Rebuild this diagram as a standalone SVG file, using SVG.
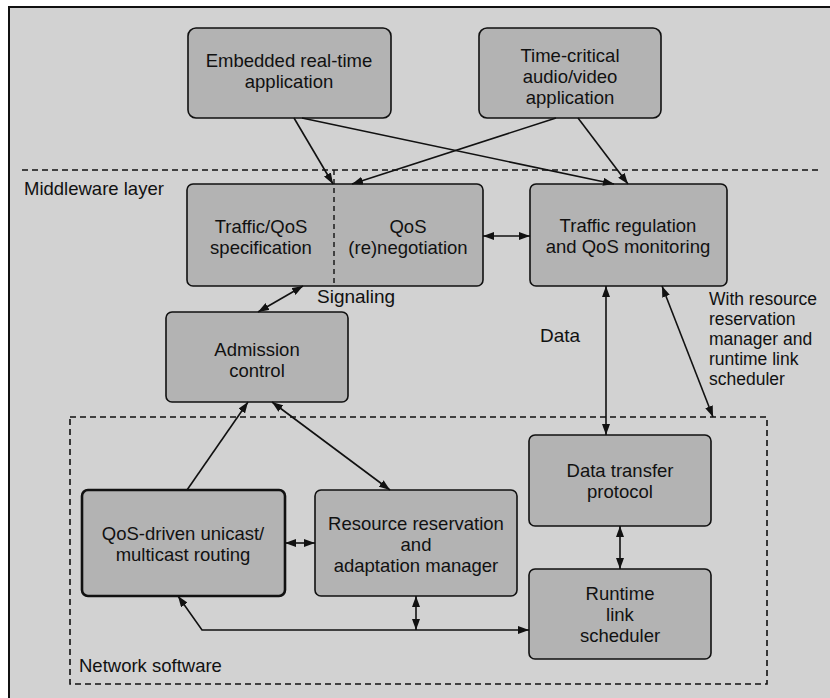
<svg xmlns="http://www.w3.org/2000/svg" width="830" height="698" viewBox="0 0 830 698">
<style>
.box{fill:#b3b3b3;stroke:#111;stroke-width:1.6}
.box2{fill:#b3b3b3;stroke:#111;stroke-width:2.6}
.t{font-family:"Liberation Sans",Arial,sans-serif;font-size:18.5px;fill:#111;text-anchor:middle}
.lb{font-family:"Liberation Sans",Arial,sans-serif;font-size:18.5px;fill:#111}
.c{fill:none;stroke:#111;stroke-width:1.6}
.dash{fill:none;stroke:#111;stroke-width:1.6;stroke-dasharray:6 4}
</style>
<defs>
<marker id="ah" viewBox="0 0 11 8" refX="11" refY="4" markerWidth="11" markerHeight="8" markerUnits="userSpaceOnUse" orient="auto-start-reverse">
<path d="M0,0 L11,4 L0,8 z" fill="#111"/>
</marker>
</defs>
<rect x="0" y="0" width="830" height="698" fill="#ffffff"/>
<rect x="9" y="7" width="821" height="691" fill="#d2d2d2"/>
<path d="M9,698 V7 H830" fill="none" stroke="#111" stroke-width="2"/>
<g id="network-area">
<rect x="70" y="417" width="697" height="267" fill="#efefef" class="dash"/>
<text class="lb" x="79" y="672">Network software</text>
</g>
<g id="middleware-area">
<line x1="22" y1="170" x2="822" y2="170" class="dash"/>
<text class="lb" x="24" y="195">Middleware layer</text>
</g>
<g id="embedded-app">
<rect class="box" x="188" y="28" width="203" height="90" rx="8"/>
<text class="t" x="289" y="67">Embedded real-time</text>
<text class="t" x="289" y="88">application</text>
</g>
<g id="timecritical-app">
<rect class="box" x="479" y="28" width="182" height="90" rx="8"/>
<text class="t" x="570" y="62">Time-critical</text>
<text class="t" x="570" y="83">audio/video</text>
<text class="t" x="570" y="104">application</text>
</g>
<g id="qos-spec-reneg">
<rect class="box" x="187" y="184" width="296" height="102" rx="6"/>
<line x1="334" y1="170" x2="334" y2="286" stroke="#111" stroke-width="1.4" stroke-dasharray="5 4"/>
<text class="t" x="261" y="233">Traffic/QoS</text>
<text class="t" x="261" y="254">specification</text>
<text class="t" x="408" y="233">QoS</text>
<text class="t" x="408" y="254">(re)negotiation</text>
</g>
<g id="traffic-regulation">
<rect class="box" x="530" y="184" width="197" height="102" rx="6"/>
<text class="t" x="628" y="232">Traffic regulation</text>
<text class="t" x="628" y="253">and QoS monitoring</text>
</g>
<g id="admission-control">
<rect class="box" x="166" y="312" width="182" height="90" rx="6"/>
<text class="t" x="257" y="356">Admission</text>
<text class="t" x="257" y="377">control</text>
</g>
<g id="qos-routing">
<rect class="box2" x="82" y="490" width="203" height="106" rx="6"/>
<text class="t" x="183" y="540">QoS-driven unicast/</text>
<text class="t" x="183" y="561">multicast routing</text>
</g>
<g id="resource-manager">
<rect class="box" x="315" y="490" width="202" height="106" rx="6"/>
<text class="t" x="416" y="530">Resource reservation</text>
<text class="t" x="416" y="551">and</text>
<text class="t" x="416" y="572">adaptation manager</text>
</g>
<g id="data-transfer">
<rect class="box" x="529" y="435" width="182" height="91" rx="6"/>
<text class="t" x="620" y="477">Data transfer</text>
<text class="t" x="620" y="498">protocol</text>
</g>
<g id="link-scheduler">
<rect class="box" x="529" y="569" width="182" height="90" rx="6"/>
<text class="t" x="620" y="600">Runtime</text>
<text class="t" x="620" y="621">link</text>
<text class="t" x="620" y="642">scheduler</text>
</g>
<g id="connectors">
<line class="c" x1="294" y1="118" x2="333" y2="184" marker-end="url(#ah)"/>
<line class="c" x1="556" y1="118" x2="352" y2="184" marker-end="url(#ah)"/>
<line class="c" x1="302" y1="118" x2="614" y2="184" marker-end="url(#ah)"/>
<line class="c" x1="578" y1="118" x2="628" y2="184" marker-end="url(#ah)"/>
<line class="c" x1="483" y1="236" x2="530" y2="236" marker-start="url(#ah)" marker-end="url(#ah)"/>
<line class="c" x1="303" y1="286" x2="258" y2="312" marker-start="url(#ah)" marker-end="url(#ah)"/>
<line class="c" x1="606" y1="286" x2="606" y2="435" marker-start="url(#ah)" marker-end="url(#ah)"/>
<line class="c" x1="662" y1="286" x2="713" y2="417" marker-start="url(#ah)" marker-end="url(#ah)"/>
<line class="c" x1="187" y1="490" x2="248" y2="402" marker-end="url(#ah)"/>
<line class="c" x1="272" y1="402" x2="390" y2="490" marker-start="url(#ah)" marker-end="url(#ah)"/>
<line class="c" x1="285" y1="543" x2="315" y2="543" marker-start="url(#ah)" marker-end="url(#ah)"/>
<line class="c" x1="620" y1="526" x2="620" y2="569" marker-start="url(#ah)" marker-end="url(#ah)"/>
<path class="c" d="M178,596 L202,630 L529,630" marker-start="url(#ah)" marker-end="url(#ah)"/>
<line class="c" x1="416" y1="596" x2="416" y2="630" marker-start="url(#ah)" marker-end="url(#ah)"/>
</g>
<g id="labels">
<text class="lb" x="317" y="303" style="font-size:19px">Signaling</text>
<text class="lb" x="540" y="342" style="font-size:19px">Data</text>
<text class="lb" x="709" y="305" style="font-size:17.5px">With resource</text>
<text class="lb" x="709" y="325" style="font-size:17.5px">reservation</text>
<text class="lb" x="709" y="345" style="font-size:17.5px">manager and</text>
<text class="lb" x="709" y="365" style="font-size:17.5px">runtime link</text>
<text class="lb" x="709" y="385" style="font-size:17.5px">scheduler</text>
</g>
</svg>
